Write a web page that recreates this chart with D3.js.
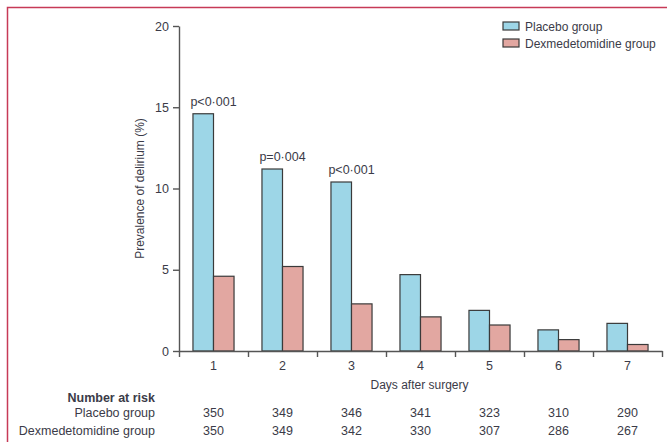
<!DOCTYPE html>
<html>
<head>
<meta charset="utf-8">
<script src="https://cdn.jsdelivr.net/npm/d3@7"></script>
<style>
  html, body { margin: 0; padding: 0; background: #fff; }
  svg { display: block; }
  text { font-family: "Liberation Sans", Arial, sans-serif; fill: #3b3b48; }
</style>
</head>
<body>
<svg id="chart" width="667" height="442"></svg>
<script>
// Days after surgery
const days = [1, 2, 3, 4, 5, 6, 7];
// Prevalence of delirium (%) per day
const placebo = [14.6, 11.2, 10.4, 4.7, 2.5, 1.3, 1.7];
const dexmedetomidine = [4.6, 5.2, 2.9, 2.1, 1.6, 0.7, 0.4];
// Significance labels over the first three days
const pLabels = ["p<0·001", "p=0·004", "p<0·001"];
// Number at risk
const riskPlacebo = [350, 349, 346, 341, 323, 310, 290];
const riskDex = [350, 349, 342, 330, 307, 286, 267];
const groups = ["Placebo group", "Dexmedetomidine group"];
const yTicks = [0, 5, 10, 15, 20];

const colors = { "Placebo group": "#9dd6e7", "Dexmedetomidine group": "#e2a7a1" };
const fs = 12.5;
const svg = d3.select("#chart");

// Page frame
svg.append("path")
  .attr("d", "M7.5,442 V7.5 H667")
  .attr("fill", "none").attr("stroke", "#c73a57").attr("stroke-width", 1.5);

const plotLeft = 179, plotRight = 662, plotTop = 26, plotBottom = 351;

const x = d3.scaleBand().domain(days).range([plotLeft, plotRight]).paddingInner(0).paddingOuter(0);
const xEdge = d3.scaleLinear().domain([0.5, 7.5]).range([plotLeft, plotRight]);
const xSub = d3.scaleBand().domain(groups).range([0, x.bandwidth()]).paddingInner(0).paddingOuter(0.68);
const y = d3.scaleLinear().domain([0, 20]).range([plotBottom, plotTop]);

const series = days.map((d, i) => ({ day: d, values: [placebo[i], dexmedetomidine[i]] }));

// Bars
const g = svg.append("g");
g.selectAll("g.day").data(series).join("g")
  .attr("class", "day")
  .attr("transform", d => `translate(${x(d.day)},0)`)
  .selectAll("rect").data(d => d.values.map((v, k) => ({ key: groups[k], v })))
  .join("rect")
  .attr("x", d => xSub(d.key))
  .attr("y", d => y(d.v))
  .attr("width", xSub.bandwidth())
  .attr("height", d => y(0) - y(d.v))
  .attr("fill", d => colors[d.key])
  .attr("stroke", "#3a3a3a").attr("stroke-width", 1.2);

// p-value labels
svg.selectAll("text.p").data(pLabels).join("text")
  .attr("class", "p")
  .attr("x", (d, i) => x(days[i]) + x.bandwidth() / 2)
  .attr("y", (d, i) => y(placebo[i]) - 8)
  .attr("text-anchor", "middle")
  .attr("font-size", fs)
  .text(d => d);

// Y axis
const yAxis = svg.append("g").attr("transform", `translate(${plotLeft},0)`)
  .call(d3.axisLeft(y).tickValues(yTicks).tickSize(6).tickSizeOuter(0).tickPadding(4));
yAxis.selectAll("text").attr("font-size", fs).style("font-family", null);
yAxis.selectAll("path, line").attr("stroke", "#555").attr("stroke-width", 1.4);

// X axis: ticks at day boundaries, labels at day centres
const xAxis = svg.append("g").attr("transform", `translate(0,${plotBottom})`)
  .call(d3.axisBottom(xEdge).tickValues(d3.range(0.5, 7.51, 1)).tickFormat("").tickSize(6).tickSizeOuter(0));
xAxis.selectAll("path, line").attr("stroke", "#555").attr("stroke-width", 1.4);
svg.append("g").attr("transform", `translate(0,${plotBottom})`)
  .call(d3.axisBottom(x).tickSize(0).tickPadding(10))
  .call(a => a.select(".domain").remove())
  .selectAll("text").attr("font-size", fs).style("font-family", null);

// Axis titles
svg.append("text")
  .attr("x", (plotLeft + plotRight) / 2 - 1).attr("y", 389)
  .attr("text-anchor", "middle").attr("font-size", 12)
  .text("Days after surgery");
svg.append("text")
  .attr("transform", `translate(144,${(plotTop + plotBottom) / 2}) rotate(-90)`)
  .attr("text-anchor", "middle").attr("font-size", 12)
  .text("Prevalence of delirium (%)");

// Legend
const legend = svg.append("g").attr("transform", "translate(503,22)");
groups.forEach((gname, i) => {
  legend.append("rect").attr("x", 0).attr("y", i * 17).attr("width", 16).attr("height", 8)
    .attr("fill", colors[gname]).attr("stroke", "#3a3a3a").attr("stroke-width", 1.2);
  legend.append("text").attr("x", 22).attr("y", i * 17 + 9).attr("font-size", 12).text(gname);
});

// Number at risk table
const tableRight = 155;
svg.append("text").attr("x", tableRight).attr("y", 402).attr("text-anchor", "end")
  .attr("font-size", fs).attr("font-weight", "bold").text("Number at risk");
[[groups[0], riskPlacebo, 417], [groups[1], riskDex, 435]].forEach(([name, vals, yy]) => {
  svg.append("text").attr("x", tableRight).attr("y", yy).attr("text-anchor", "end")
    .attr("font-size", fs).text(name);
  svg.selectAll(null).data(vals).join("text")
    .attr("x", (d, i) => x(days[i]) + x.bandwidth() / 2)
    .attr("y", yy).attr("text-anchor", "middle").attr("font-size", fs)
    .text(d => d);
});
</script>
</body>
</html>
